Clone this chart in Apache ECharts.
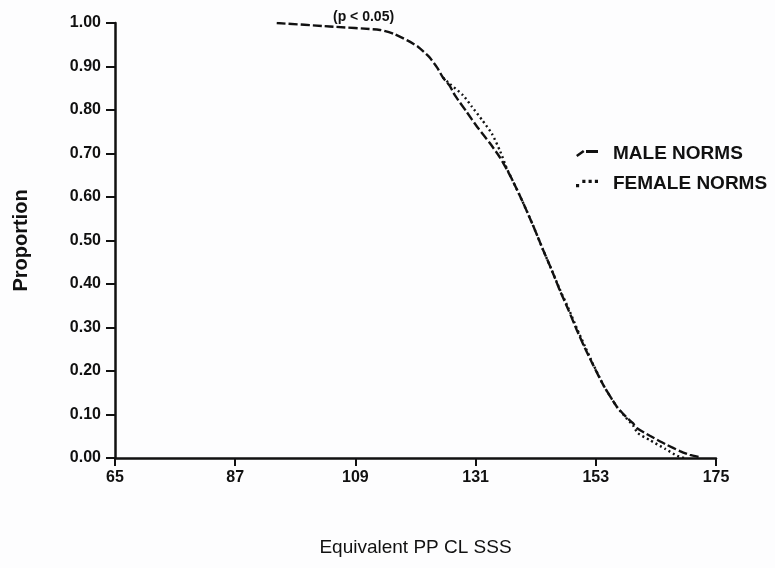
<!DOCTYPE html>
<html>
<head>
<meta charset="utf-8">
<script src="https://cdn.jsdelivr.net/npm/echarts@6/dist/echarts.min.js"></script>
<style>
html,body{margin:0;padding:0;background:#fdfdfe;}
#chart{width:775px;height:568px;}
</style>
</head>
<body>
<div id="chart"></div>
<script>
// ---- data ----
const xTicks = [65, 87, 109, 131, 153, 175];
const yTicks = [0, 0.1, 0.2, 0.3, 0.4, 0.5, 0.6, 0.7, 0.8, 0.9, 1.0];

const maleX = [94.6, 104.3, 113.5, 116.0, 118.5, 120.5, 122.5, 124.0, 125.0, 126.3, 127.2, 129.4, 131.3, 133.6, 135.5, 137.5, 139.5, 141.5, 143.3, 145.0, 146.4, 148.0, 149.5, 151.0, 152.5, 154.5, 156.9, 158.5, 159.8, 160.5, 162.9, 165.7, 168.4, 170.2, 172.1];
const maleY = [1.000, 0.992, 0.984, 0.975, 0.960, 0.945, 0.922, 0.897, 0.875, 0.855, 0.834, 0.795, 0.761, 0.724, 0.690, 0.645, 0.592, 0.535, 0.480, 0.430, 0.386, 0.340, 0.295, 0.253, 0.214, 0.165, 0.117, 0.095, 0.080, 0.069, 0.051, 0.032, 0.016, 0.007, 0.002];

const femaleX = [125.0, 126.3, 128.7, 130.3, 132.2, 134.0, 135.5, 136.8, 137.5, 139.5, 141.5, 143.3, 145.0, 146.4, 148.0, 149.5, 151.0, 152.5, 154.5, 156.9, 158.5, 159.8, 160.7, 162.9, 165.7, 167.9, 169.3];
const femaleY = [0.875, 0.860, 0.834, 0.808, 0.777, 0.745, 0.705, 0.663, 0.645, 0.592, 0.535, 0.480, 0.430, 0.388, 0.344, 0.299, 0.257, 0.216, 0.165, 0.117, 0.093, 0.075, 0.057, 0.041, 0.021, 0.005, 0.000];

const seriesNames = ['MALE NORMS', 'FEMALE NORMS'];
const xAxisTitle = 'Equivalent PP CL SSS';
const yAxisTitle = 'Proportion';
const noteText = '(p < 0.05)';

const zip = (xs, ys) => xs.map((x, i) => [x, ys[i]]);
const FONT = '"Liberation Sans", Arial, sans-serif';
const INK = '#111';
const maleIcon = 'path://M0,7 L7,2 L8.5,4 L1.5,9 Z M10,2 H22 V5 H10 Z';
const femaleIcon = 'path://M0,6h3v3h-3z M6,2h3v3h-3z M12,2h3v3h-3z M18,2h3v3h-3z';

const chart = echarts.init(document.getElementById('chart'), null, {renderer: 'canvas'});
chart.setOption({
  backgroundColor: '#fdfdfe',
  animation: false,
  grid: {left: 115, top: 23, right: 59, bottom: 110, containLabel: false},
  xAxis: {
    type: 'value', min: 65, max: 175,
    name: xAxisTitle, nameLocation: 'middle', nameGap: 80,
    nameTextStyle: {fontFamily: FONT, fontSize: 19, fontWeight: 'normal', color: INK},
    axisLine: {show: true, onZero: false, lineStyle: {color: INK, width: 2.5}},
    axisTick: {show: true, inside: false, length: 8, lineStyle: {color: INK, width: 2}, customValues: xTicks},
    axisLabel: {customValues: xTicks, margin: 12, fontFamily: FONT, fontSize: 16, fontWeight: 'bold', color: INK},
    splitLine: {show: false}
  },
  yAxis: {
    type: 'value', min: 0, max: 1, interval: 0.1,
    name: yAxisTitle, nameLocation: 'middle', nameGap: 84, nameRotate: 90,
    nameTextStyle: {fontFamily: FONT, fontSize: 20, fontWeight: 'bold', color: INK},
    axisLine: {show: true, onZero: false, lineStyle: {color: INK, width: 2.5}},
    axisTick: {show: true, inside: false, length: 9, lineStyle: {color: INK, width: 2}},
    axisLabel: {margin: 14, fontFamily: FONT, fontSize: 16, fontWeight: 'bold', color: INK,
      formatter: v => v.toFixed(2)},
    splitLine: {show: false}
  },
  legend: {
    orient: 'vertical', left: 571, top: 139, itemGap: 11,
    itemWidth: 22, itemHeight: 10,
    data: [
      {name: seriesNames[0], icon: maleIcon},
      {name: seriesNames[1], icon: femaleIcon}
    ],
    textStyle: {fontFamily: FONT, fontSize: 19, fontWeight: 'bold', color: INK, padding: [0, 0, 0, 10]}
  },
  graphic: [{
    type: 'text', left: 333, top: 10,
    style: {text: noteText, font: 'bold 14px ' + FONT, fill: INK}
  }],
  series: [
    {
      name: seriesNames[0], type: 'line', data: zip(maleX, maleY),
      showSymbol: false, symbol: 'none', smooth: 0.2,
      lineStyle: {color: INK, width: 2.4, type: [9, 3]},
      itemStyle: {color: INK}
    },
    {
      name: seriesNames[1], type: 'line', data: zip(femaleX, femaleY),
      showSymbol: false, symbol: 'none', smooth: 0.2,
      lineStyle: {color: INK, width: 2.4, type: [2, 3]},
      itemStyle: {color: INK}
    }
  ]
});
</script>
</body>
</html>
